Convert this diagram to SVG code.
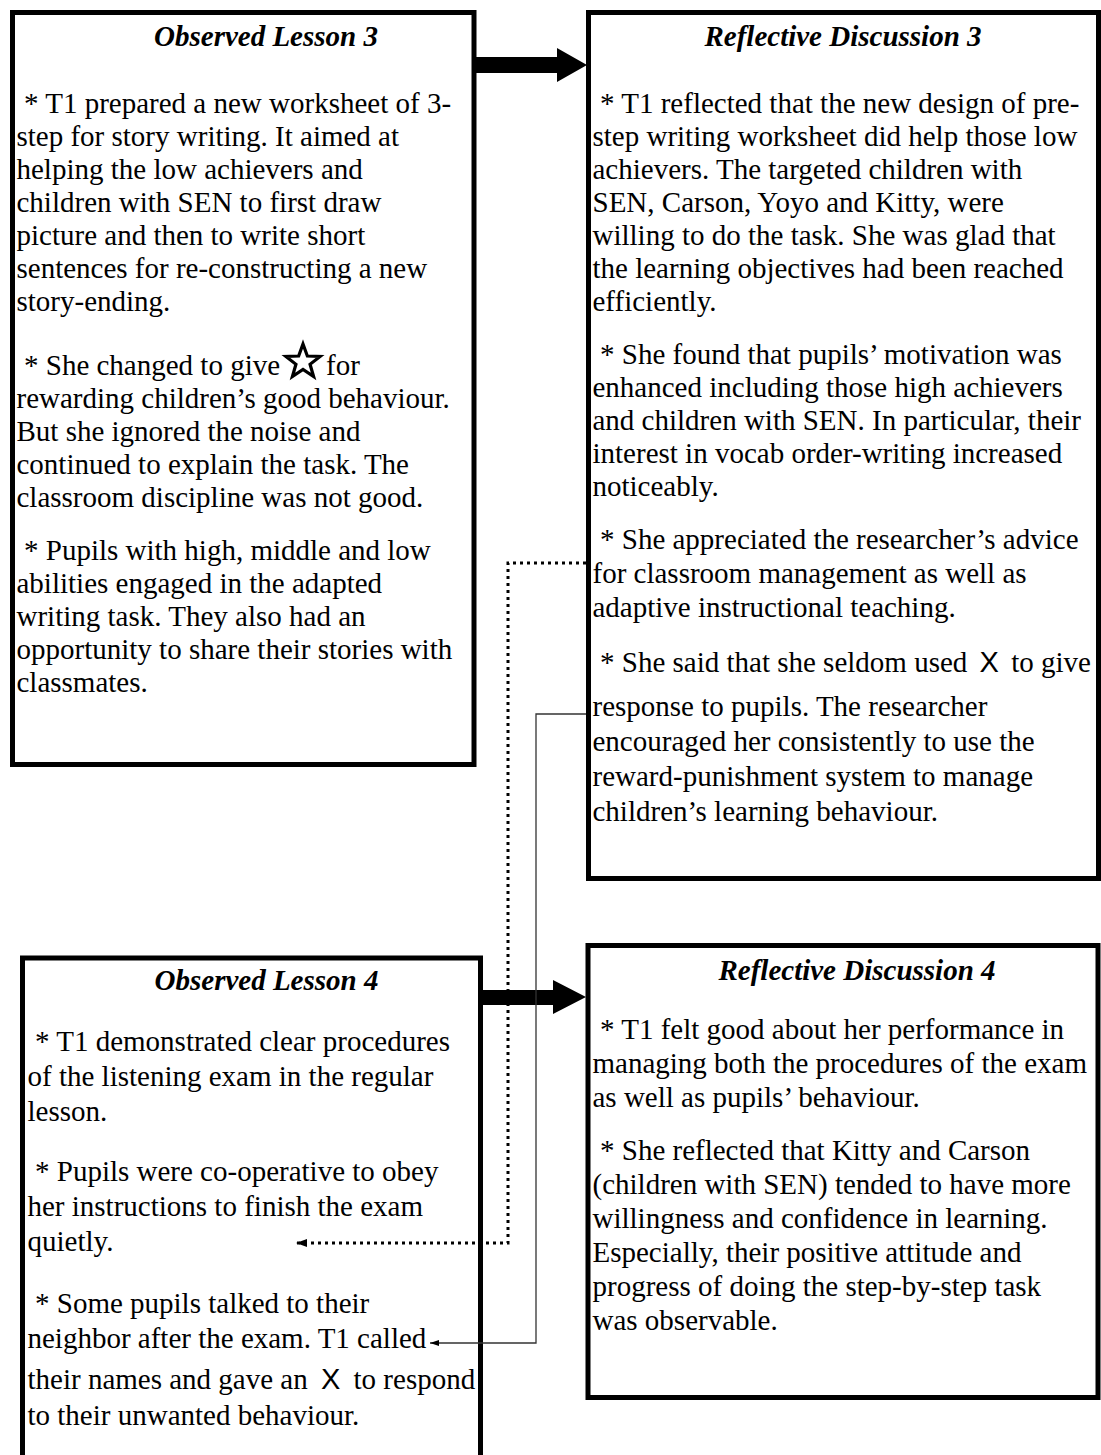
<svg xmlns="http://www.w3.org/2000/svg" width="1101" height="1455" viewBox="0 0 1101 1455">
  <style>
    .box { fill: #fff; stroke: #000; stroke-width: 5; }
    .t { font-family: "Liberation Serif", "Times New Roman", serif; font-size: 29px; fill: #000; }
    .h { font-weight: bold; font-style: italic; text-anchor: middle; }
    .x { font-family: "Liberation Sans", Arial, sans-serif; }
    .dot { fill: none; stroke: #000; stroke-width: 3; stroke-dasharray: 3 4; }
    .thin { fill: none; stroke: #333; stroke-width: 1.3; }
    .fat { fill: #000; }
  </style>
  <defs>
    <marker id="headDot" markerUnits="userSpaceOnUse" markerWidth="12" markerHeight="8" refX="11" refY="4" orient="auto">
      <path d="M0,0 L11,4 L0,8 z" fill="#000"/>
    </marker>
    <marker id="headThin" markerUnits="userSpaceOnUse" markerWidth="9" markerHeight="6" refX="9" refY="3" orient="auto">
      <path d="M0,0 L9,3 L0,6 z" fill="#000"/>
    </marker>
  </defs>
  <rect width="1101" height="1455" fill="#fff"/>

  <!-- Observed Lesson 3 -->
  <g id="observed-lesson-3">
    <rect class="box" x="12.5" y="12.5" width="461.5" height="752"/>
    <text class="t h" x="266" y="46" font-size="25.5">Observed Lesson 3</text>
    <text class="t">
      <tspan x="24" y="113">* T1 prepared a new worksheet of 3-</tspan>
      <tspan x="16.5" y="146">step for story writing. It aimed at</tspan>
      <tspan x="16.5" y="179">helping the low achievers and</tspan>
      <tspan x="16.5" y="212">children with SEN to first draw</tspan>
      <tspan x="16.5" y="245">picture and then to write short</tspan>
      <tspan x="16.5" y="278">sentences for re-constructing a new</tspan>
      <tspan x="16.5" y="311">story-ending.</tspan>
      <tspan x="24" y="375">* She changed to give</tspan>
      <tspan x="326" y="375">for</tspan>
      <tspan x="16.5" y="408">rewarding children’s good behaviour.</tspan>
      <tspan x="16.5" y="441">But she ignored the noise and</tspan>
      <tspan x="16.5" y="474">continued to explain the task. The</tspan>
      <tspan x="16.5" y="507">classroom discipline was not good.</tspan>
      <tspan x="24" y="560">* Pupils with high, middle and low</tspan>
      <tspan x="16.5" y="593">abilities engaged in the adapted</tspan>
      <tspan x="16.5" y="626">writing task. They also had an</tspan>
      <tspan x="16.5" y="659">opportunity to share their stories with</tspan>
      <tspan x="16.5" y="692">classmates.</tspan>
    </text>
    <!-- outlined reward star -->
    <polygon transform="translate(303,362)" fill="#fff" stroke="#000" stroke-width="3.2" stroke-linejoin="miter"
      points="0,-18 4.35,-6 17.1,-5.56 7.05,2.29 10.58,14.56 0,7.4 -10.58,14.56 -7.05,2.29 -17.1,-5.56 -4.35,-6"/>
  </g>

  <!-- Reflective Discussion 3 -->
  <g id="reflective-discussion-3">
    <rect class="box" x="588.5" y="12.5" width="510" height="866"/>
    <text class="t h" x="843" y="46">Reflective Discussion 3</text>
    <text class="t">
      <tspan x="600" y="113">* T1 reflected that the new design of pre-</tspan>
      <tspan x="592.5" y="146">step writing worksheet did help those low</tspan>
      <tspan x="592.5" y="179">achievers. The targeted children with</tspan>
      <tspan x="592.5" y="212">SEN, Carson, Yoyo and Kitty, were</tspan>
      <tspan x="592.5" y="245">willing to do the task. She was glad that</tspan>
      <tspan x="592.5" y="278">the learning objectives had been reached</tspan>
      <tspan x="592.5" y="311">efficiently.</tspan>
      <tspan x="600" y="364">* She found that pupils’ motivation was</tspan>
      <tspan x="592.5" y="397">enhanced including those high achievers</tspan>
      <tspan x="592.5" y="430">and children with SEN. In particular, their</tspan>
      <tspan x="592.5" y="463">interest in vocab order-writing increased</tspan>
      <tspan x="592.5" y="496">noticeably.</tspan>
      <tspan x="600" y="549">* She appreciated the researcher’s advice</tspan>
      <tspan x="592.5" y="583">for classroom management as well as</tspan>
      <tspan x="592.5" y="617">adaptive instructional teaching.</tspan>
      <tspan x="600" y="672">* She said that she seldom used <tspan class="x" dx="5">X</tspan><tspan dx="5"> to give</tspan></tspan>
      <tspan x="592.5" y="716">response to pupils. The researcher</tspan>
      <tspan x="592.5" y="751">encouraged her consistently to use the</tspan>
      <tspan x="592.5" y="786">reward-punishment system to manage</tspan>
      <tspan x="592.5" y="821">children’s learning behaviour.</tspan>
    </text>
  </g>

  <!-- Observed Lesson 4 -->
  <g id="observed-lesson-4">
    <rect class="box" x="22.5" y="958" width="458" height="520"/>
    <text class="t h" x="266.5" y="990">Observed Lesson 4</text>
    <text class="t">
      <tspan x="35" y="1051">* T1 demonstrated clear procedures</tspan>
      <tspan x="27.5" y="1086">of the listening exam in the regular</tspan>
      <tspan x="27.5" y="1121">lesson.</tspan>
      <tspan x="35" y="1181">* Pupils were co-operative to obey</tspan>
      <tspan x="27.5" y="1216">her instructions to finish the exam</tspan>
      <tspan x="27.5" y="1251">quietly.</tspan>
      <tspan x="35" y="1313">* Some pupils talked to their</tspan>
      <tspan x="27.5" y="1348">neighbor after the exam. T1 called</tspan>
      <tspan x="27.5" y="1389">their names and gave an <tspan class="x" dx="6">X</tspan><tspan dx="6"> to respond</tspan></tspan>
      <tspan x="27.5" y="1425">to their unwanted behaviour.</tspan>
    </text>
  </g>

  <!-- Reflective Discussion 4 -->
  <g id="reflective-discussion-4">
    <rect class="box" x="588" y="945.5" width="510" height="452"/>
    <text class="t h" x="857" y="980">Reflective Discussion 4</text>
    <text class="t">
      <tspan x="600" y="1039">* T1 felt good about her performance in</tspan>
      <tspan x="592.5" y="1073">managing both the procedures of the exam</tspan>
      <tspan x="592.5" y="1107">as well as pupils’ behaviour.</tspan>
      <tspan x="600" y="1160">* She reflected that Kitty and Carson</tspan>
      <tspan x="592.5" y="1194">(children with SEN) tended to have more</tspan>
      <tspan x="592.5" y="1228">willingness and confidence in learning.</tspan>
      <tspan x="592.5" y="1262">Especially, their positive attitude and</tspan>
      <tspan x="592.5" y="1296">progress of doing the step-by-step task</tspan>
      <tspan x="592.5" y="1330">was observable.</tspan>
    </text>
  </g>

  <!-- connectors -->
  <g id="connectors">
    <polygon class="fat" points="476,57 557,57 557,48 587,65 557,82 557,73 476,73"/>
    <polygon class="fat" points="483,990 553,990 553,980 586,997 553,1014 553,1005 483,1005"/>
    <path class="dot" d="M586,563 H508 V1243 H296" marker-end="url(#headDot)"/>
    <path class="thin" d="M586,714 H536 V1343 H430" marker-end="url(#headThin)"/>
  </g>
</svg>
